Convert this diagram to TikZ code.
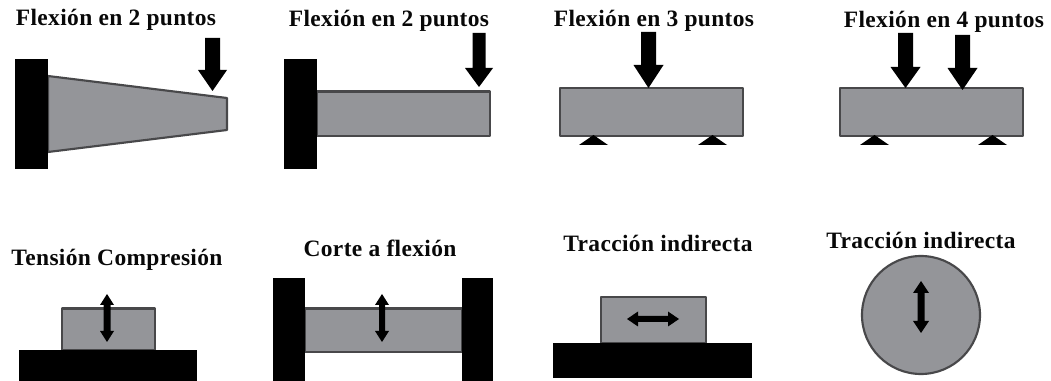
\documentclass[tikz,border=0pt]{standalone}
\usepackage{fontspec}
\setmainfont{Liberation Serif}[LetterSpace=1.5]
\definecolor{specimen}{RGB}{148,149,153}
\definecolor{edgegray}{RGB}{72,72,74}
\definecolor{inkblack}{RGB}{8,8,8}
\tikzset{
  specimenbody/.style={fill=specimen,draw=edgegray,line width=1.6pt,line join=round},
  grip/.style={fill=black,draw=none},
  arrowshape/.style={fill=black,draw=none},
  caption/.style={anchor=base,inner sep=0pt,text=inkblack,font=\fontsize{17.6}{20}\selectfont\bfseries}
}
% downward load arrow: centre x, top y, shoulder y, tip y, half shaft, half head
\newcommand{\loadarrow}[6]{\fill[arrowshape] (#1-#5,#2) -- (#1+#5,#2) -- (#1+#5,#3) -- (#1+#6,#3) -- (#1,#4) -- (#1-#6,#3) -- (#1-#5,#3) -- cycle;}
% vertical double arrow: centre x, top y, bottom y, half shaft, half head, head length
\newcommand{\vdouble}[6]{\fill[arrowshape] (#1,#2) -- (#1+#5,#2+#6) -- (#1+#4,#2+#6) -- (#1+#4,#3-#6) -- (#1+#5,#3-#6) -- (#1,#3) -- (#1-#5,#3-#6) -- (#1-#4,#3-#6) -- (#1-#4,#2+#6) -- (#1-#5,#2+#6) -- cycle;}
\newcommand{\hdouble}[6]{\fill[arrowshape] (#1,#3) -- (#1+#6,#3-#5) -- (#1+#6,#3-#4) -- (#2-#6,#3-#4) -- (#2-#6,#3-#5) -- (#2,#3) -- (#2-#6,#3+#5) -- (#2-#6,#3+#4) -- (#1+#6,#3+#4) -- (#1+#6,#3+#5) -- cycle;}
\newcommand{\support}[3]{\fill[arrowshape] (#1,#2) -- (#1+14.5,#3) -- (#1-14.5,#3) -- cycle;}
\begin{document}
\begin{tikzpicture}[x=0.75pt,y=-0.75pt]
\useasboundingbox (0,0) rectangle (1051,381);
% captions
\node[caption] (c1) at (116,26) {Flexión en 2 puntos};
\node[caption] (c2) at (389,27) {Flexión en 2 puntos};
\node[caption] (c3) at (654,26.5) {Flexión en 3 puntos};
\node[caption] (c4) at (944,28) {Flexión en 4 puntos};
\node[caption] (c5) at (117,266) {Tensión Compresión};
\node[caption] (c6) at (380,257) {Corte a flexión};
\node[caption] (c7) at (658,252) {Tracción indirecta};
\node[caption] (c8) at (921,249) {Tracción indirecta};
% 1: tapered cantilever
\draw[specimenbody] (48,76) -- (227,98) -- (227,130) -- (48,152) -- cycle;
\fill[grip] (15,59) rectangle (48,169);
\loadarrow{212.5}{38}{70}{91}{7.5}{14.5}
% 2: straight cantilever
\draw[specimenbody] (317,91.5) rectangle (490,136);
\fill[grip] (284,59) rectangle (317,169);
\loadarrow{479}{33}{68}{87}{6.5}{14}
% 3: three-point bending
\draw[specimenbody] (560,88) rectangle (743,136);
\support{593.5}{135}{145}
\support{712.5}{135}{145}
\loadarrow{648.5}{32}{65}{88}{7.5}{15}
% 4: four-point bending
\draw[specimenbody] (840,88) rectangle (1023,136);
\support{874.5}{135}{145}
\support{992.5}{135}{145}
\loadarrow{905.5}{33}{67}{88}{7.5}{15}
\loadarrow{962.5}{35}{68}{90}{7.5}{15}
% 5: tension-compression
\draw[specimenbody] (62,308.5) rectangle (155,350);
\fill[grip] (19,350) rectangle (197,381);
\vdouble{107}{294}{342}{3.5}{7}{11}
% 6: shear
\draw[specimenbody] (305,308.5) rectangle (462,352);
\fill[grip] (273,278) rectangle (305,381);
\fill[grip] (462,278) rectangle (493,381);
\vdouble{382}{294}{342}{3}{7}{11}
% 7: indirect tension, block
\draw[specimenbody] (601,297) rectangle (706,343);
\fill[grip] (553,343) rectangle (752,378);
\hdouble{627}{679}{319}{3}{7.5}{11}
% 8: indirect tension, disc
\draw[specimenbody] (921,315) circle[radius=59];
\vdouble{921}{281}{333}{3.5}{8}{12}
\end{tikzpicture}
\end{document}
